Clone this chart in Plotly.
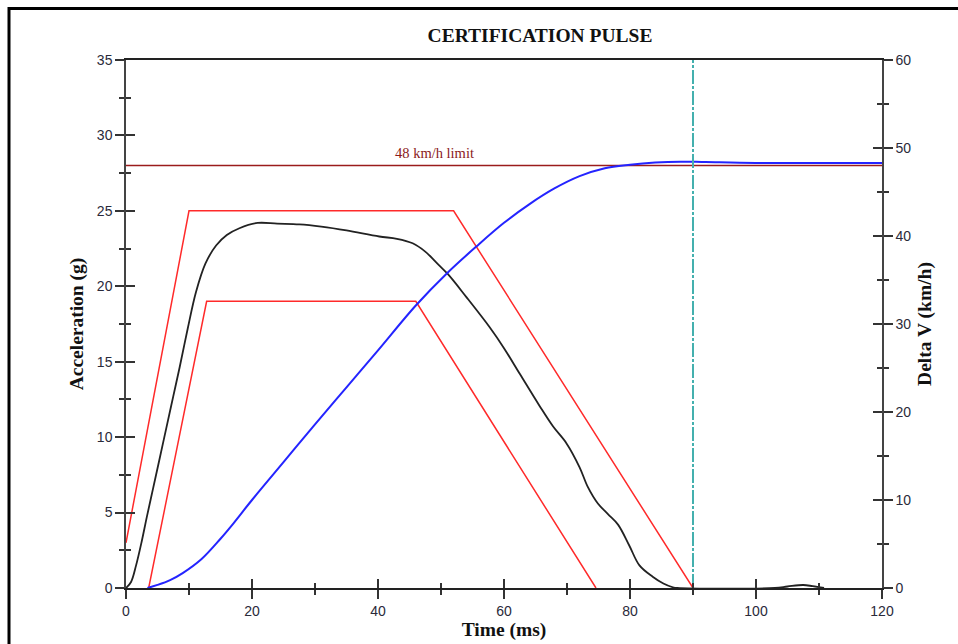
import plotly.graph_objects as go

# ---- data ----
upper_t = [0, 10, 52, 90]
upper_a = [3, 25, 25, 0]
lower_t = [3.6, 12.8, 46, 74.6]
lower_a = [0, 19, 19, 0]

accel_t = [0, 0.8, 1.6, 2.5, 3.3, 4.3, 5.3, 6.5, 7.5, 8.5, 9.8, 11.1, 12.6, 14.3, 16, 18,
           20.9, 24, 27.5, 31, 35, 40.2, 43, 45.5, 47.5, 49.2, 51.1, 54, 57.7, 60, 62.5,
           65.6, 67.8, 69.9, 72, 73.3, 74.9, 76.5, 78.1, 79.9, 81.5, 83.6, 85.3, 86.8,
           87.5, 103, 105, 107.5, 109, 110.8]
accel_g = [0, 0.4, 1.5, 3.1, 4.7, 6.6, 8.5, 10.8, 12.7, 14.6, 17.2, 19.6, 21.5, 22.7, 23.4, 23.85,
           24.2, 24.15, 24.1, 23.95, 23.7, 23.3, 23.15, 22.85, 22.3, 21.6, 20.8, 19.3, 17.3, 15.9, 14.2,
           12.1, 10.7, 9.6, 8.0, 6.7, 5.6, 4.9, 4.2, 2.8, 1.5, 0.75, 0.3, 0.05,
           0, 0, 0.1, 0.2, 0.12, 0]

dv_t = [3.4, 5, 7, 9, 12, 15, 17, 20, 25, 30, 35, 40, 46, 51, 55.6, 60, 64, 68, 72, 76,
        80, 84, 88, 92, 100, 120]
dv_kmh = [0, 0.35, 0.9, 1.7, 3.3, 5.6, 7.3, 10.0, 14.3, 18.6, 22.8, 27.0, 32.1, 35.8, 38.8, 41.5,
          43.6, 45.4, 46.8, 47.7, 48.1, 48.35, 48.45, 48.4, 48.3, 48.3]

limit_t = [0, 120]
limit_kmh = [48, 48]
limit_label = "48 km/h limit"
marker_t = [90, 90]
marker_kmh = [0, 60]

x_range = [0, 120]
acc_range = [0, 35]
dv_range = [0, 60]

# ---- layout constants ----
W, H = 958, 644
ML, MR, MT, MB = 126, 76, 60, 56
PW, PH = W - ML - MR, H - MT - MB

SERIF = "Liberation Serif"
SANS = "Liberation Sans"
AX = "#333333"

fig = go.Figure()

fig.add_trace(go.Scatter(x=upper_t, y=upper_a, mode="lines",
                         line=dict(color="#ff2a2a", width=1.5), xaxis="x", yaxis="y"))
fig.add_trace(go.Scatter(x=lower_t, y=lower_a, mode="lines",
                         line=dict(color="#ff2a2a", width=1.5), xaxis="x", yaxis="y"))
fig.add_trace(go.Scatter(x=accel_t, y=accel_g, mode="lines", line_shape="spline",
                         line=dict(color="#222222", width=1.8), xaxis="x", yaxis="y"))
fig.add_trace(go.Scatter(x=limit_t, y=limit_kmh, mode="lines",
                         line=dict(color="#9b1c1c", width=1.5), xaxis="x", yaxis="y2"))
fig.add_trace(go.Scatter(x=dv_t, y=dv_kmh, mode="lines", line_shape="spline",
                         line=dict(color="#2424ff", width=2), xaxis="x", yaxis="y2"))
fig.add_trace(go.Scatter(x=marker_t, y=marker_kmh, mode="lines",
                         line=dict(color="#44b0ae", width=2, dash="14px,2px,3px,2px"),
                         xaxis="x", yaxis="y2"))
# empty traces to realise the inner-tick axes
fig.add_trace(go.Scatter(x=[], y=[], xaxis="x2", yaxis="y3"))
fig.add_trace(go.Scatter(x=[], y=[], xaxis="x2", yaxis="y4"))

tickfont = dict(family=SANS, size=14, color="#2a2a3a")
titlefont = dict(family=SERIF, size=19.5, color="#111111", weight="bold")

common = dict(showgrid=False, zeroline=False, tickwidth=1.5, tickcolor=AX, fixedrange=True)

fig.update_layout(
    width=W, height=H,
    margin=dict(l=ML, r=MR, t=MT, b=MB, autoexpand=False),
    paper_bgcolor="white", plot_bgcolor="white",
    showlegend=False,
    title=dict(text="CERTIFICATION PULSE", font=dict(family=SERIF, size=19.5, color="#111111", weight="bold"),
               xref="paper", x=(540 - ML) / PW, xanchor="center",
               yref="container", y=1 - 35 / H, yanchor="middle"),
    xaxis=dict(range=x_range, tick0=0, dtick=20, ticks="outside", ticklen=9,
               showline=True, linecolor="#222222", linewidth=1.5, mirror=True,
               minor=dict(dtick=10, ticks="outside", ticklen=5, tickwidth=1.5, tickcolor=AX),
               tickfont=tickfont, title=dict(text="Time (ms)", font=titlefont, standoff=0),
               anchor="y", **common),
    xaxis2=dict(range=x_range, overlaying="x", anchor="y", tick0=0, dtick=20, ticks="inside",
                ticklen=9, showticklabels=False, showline=False,
                minor=dict(dtick=10, ticks="inside", ticklen=5, tickwidth=1.5, tickcolor=AX),
                **common),
    yaxis=dict(range=acc_range, tick0=0, dtick=5, ticks="outside", ticklen=9,
               showline=True, linecolor="#444444", linewidth=1.5,
               minor=dict(dtick=2.5, ticks="outside", ticklen=5, tickwidth=1.5, tickcolor=AX),
               tickfont=tickfont, title=dict(text="Acceleration (g)", font=titlefont, standoff=8),
               anchor="x", **common),
    yaxis2=dict(range=dv_range, tick0=0, dtick=10, overlaying="y", side="right", anchor="x",
                ticks="outside", ticklen=9, showline=True, linecolor="#444444", linewidth=1.5,
                minor=dict(dtick=5, ticks="outside", ticklen=5, tickwidth=1.5, tickcolor=AX),
                tickfont=tickfont, title=dict(text="Delta V (km/h)", font=titlefont, standoff=7),
                **common),
    yaxis3=dict(range=acc_range, tick0=0, dtick=5, overlaying="y", side="left", anchor="x2",
                ticks="inside", ticklen=9, showticklabels=False, showline=False,
                minor=dict(dtick=2.5, ticks="inside", ticklen=5, tickwidth=1.5, tickcolor=AX),
                **common),
    yaxis4=dict(range=dv_range, tick0=0, dtick=10, overlaying="y", side="right", anchor="x2",
                ticks="inside", ticklen=9, showticklabels=False, showline=False,
                minor=dict(dtick=5, ticks="inside", ticklen=5, tickwidth=1.5, tickcolor=AX),
                **common),
)

fig.add_annotation(x=49, y=limit_kmh[0], xref="x", yref="y2", text=limit_label,
                   showarrow=False, yanchor="bottom", yshift=3,
                   font=dict(family=SERIF, size=14.5, color="#8b1a1a"))

# outer frame (partially beyond the page, as in the reference)
fig.add_shape(type="rect", xref="paper", yref="paper",
              x0=(9 - ML) / PW, x1=(975 - ML) / PW,
              y0=(H - MB - 670) / PH, y1=(H - MB - 8.5) / PH,
              line=dict(color="black", width=3), fillcolor="rgba(0,0,0,0)", layer="above")

fig.write_html("out.html", config={"displayModeBar": False},
               post_script="document.body.style.margin='0';document.body.style.overflow='hidden';")
